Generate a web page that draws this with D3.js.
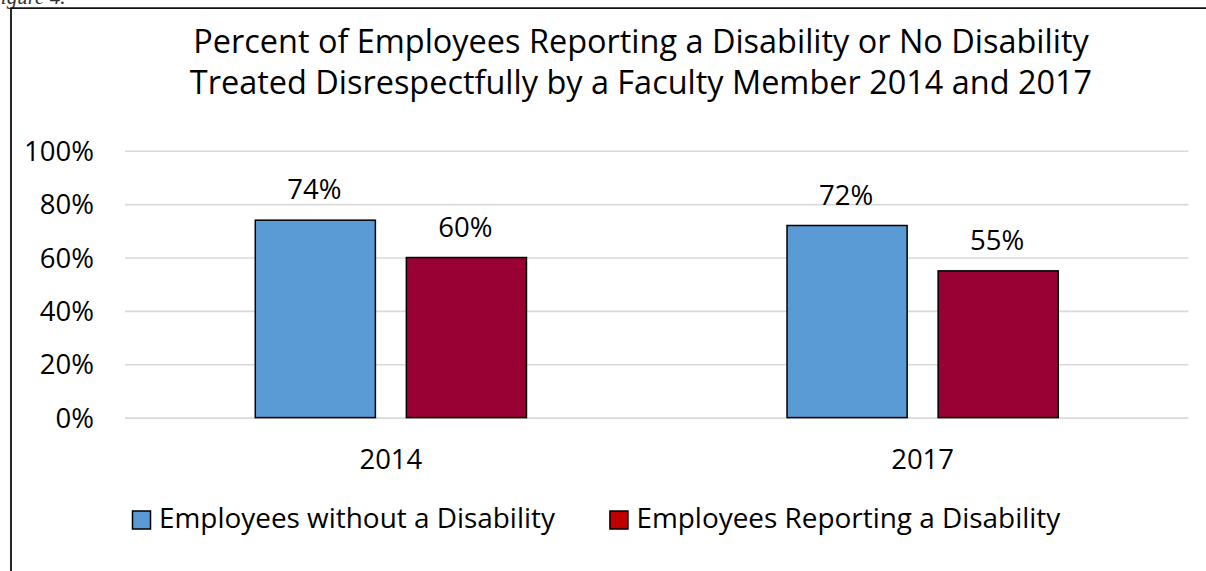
<!DOCTYPE html>
<html>
<head>
<meta charset="utf-8">
<script src="https://cdn.jsdelivr.net/npm/d3@7/dist/d3.min.js"></script>
<style>
  html, body { margin: 0; padding: 0; background: #ffffff; overflow: hidden; }
  svg { display: block; }
</style>
</head>
<body>
<svg id="chart" width="1206" height="571"></svg>
<script>
// ---- data ----
const categories = ["2014", "2017"];
const seriesNames = ["Employees without a Disability", "Employees Reporting a Disability"];
const withoutDisability = [0.74, 0.72];
const reportingDisability = [0.60, 0.55];
const yTickValues = [0, 0.2, 0.4, 0.6, 0.8, 1.0];
const titleLines = [
  "Percent of Employees Reporting a Disability or No Disability",
  "Treated Disrespectfully by a Faculty Member 2014 and 2017"
];
const figureCaption = "Figure 4.";

// ---- styles ----
const FONT = "'Open Sans', 'Noto Sans', sans-serif";
const barColors = ["#5B9BD5", "#990033"];
const legendColors = ["#5B9BD5", "#C00000"];

const svg = d3.select("#chart");
const W = 1206, H = 571;

// plot area
const plot = { left: 125, right: 1188.5, top: 150.8, bottom: 417.6 };

const x0 = d3.scaleBand().domain(categories).range([plot.left, plot.right]).padding(0);
const x1 = d3.scaleBand().domain(seriesNames)
  .range([0, x0.bandwidth() * 0.51]).paddingInner(0.205).paddingOuter(0);
const y = d3.scaleLinear().domain([0, 1]).range([plot.bottom, plot.top]);

// caption (clipped at top, as in the source page)
svg.append("text")
  .attr("x", -12).attr("y", 4)
  .attr("font-family", "'Liberation Serif', serif")
  .attr("font-style", "italic")
  .attr("font-size", 21)
  .attr("fill", "#333")
  .text(figureCaption);

// frame
svg.append("path")
  .attr("d", `M11,${H + 5} L11,8.2 L${W + 5},8.2`)
  .attr("fill", "none")
  .attr("stroke", "#111")
  .attr("stroke-width", 1.8);

// title
const titleG = svg.append("g");
const titleCx = 641;
const titleBaselines = [53, 94];
const titleTexts = titleG.selectAll("text").data(titleLines).join("text")
  .attr("x", titleCx)
  .attr("y", (d, i) => titleBaselines[i])
  .attr("text-anchor", "middle")
  .attr("font-family", FONT)
  .attr("font-size", 30)
  .attr("fill", "#000")
  .text(d => d);
// fit title font size to reference width of first line
{
  const n = titleTexts.nodes()[0];
  const w = n.getComputedTextLength();
  const fs = 30 * 896 / w;
  titleTexts.attr("font-size", fs);
}

// y axis with gridlines
const yAxis = d3.axisLeft(y)
  .tickValues(yTickValues)
  .tickSize(-(plot.right - plot.left))
  .tickPadding(31)
  .tickFormat(d3.format(".0%"));
const yg = svg.append("g").attr("transform", `translate(${plot.left},0)`).call(yAxis);
yg.select(".domain").remove();
yg.selectAll(".tick line").attr("stroke", "#D9D9D9").attr("stroke-width", 1.6);
yg.selectAll(".tick text")
  .attr("font-family", FONT)
  .attr("font-size", 27.5)
  .attr("fill", "#000")
  .attr("dy", "0.35em");

// x axis labels
const xAxis = d3.axisBottom(x0).tickSize(0).tickPadding(0);
const xg = svg.append("g").attr("transform", `translate(0,${plot.bottom})`).call(xAxis);
xg.select(".domain").remove();
xg.selectAll(".tick text")
  .attr("font-family", FONT)
  .attr("font-size", 27.5)
  .attr("fill", "#000")
  .attr("y", 51.5)
  .attr("dy", 0);

// bars
const rows = categories.map((c, i) => ({
  category: c,
  values: [
    { series: seriesNames[0], value: withoutDisability[i], color: barColors[0] },
    { series: seriesNames[1], value: reportingDisability[i], color: barColors[1] }
  ]
}));

const groups = svg.append("g").selectAll("g").data(rows).join("g")
  .attr("transform", d => `translate(${x0(d.category) + (x0.bandwidth() - x1.range()[1]) / 2},0)`);

groups.selectAll("rect").data(d => d.values).join("rect")
  .attr("x", d => x1(d.series))
  .attr("y", d => y(d.value))
  .attr("width", x1.bandwidth())
  .attr("height", d => y(0) - y(d.value))
  .attr("fill", d => d.color)
  .attr("stroke", "#000")
  .attr("stroke-width", 1.5);

groups.selectAll("text.lbl").data(d => d.values).join("text")
  .attr("class", "lbl")
  .attr("x", d => x1(d.series) + x1.bandwidth() / 2 - 1)
  .attr("y", d => y(d.value) - 21)
  .attr("text-anchor", "middle")
  .attr("font-family", FONT)
  .attr("font-size", 27.5)
  .attr("fill", "#000")
  .text(d => d3.format(".0%")(d.value));

// legend
const legend = svg.append("g");
const legendStartX = 132.5, swatchTop = 511, swatchSize = 18, legendBaseline = 528.3;
let lx = legendStartX;
let legendFs = 26;
seriesNames.forEach((name, i) => {
  legend.append("rect")
    .attr("x", lx).attr("y", swatchTop)
    .attr("width", swatchSize).attr("height", swatchSize)
    .attr("fill", legendColors[i])
    .attr("stroke", "#000").attr("stroke-width", 1.5);
  const t = legend.append("text")
    .attr("x", lx + 26.5).attr("y", legendBaseline)
    .attr("font-family", FONT)
    .attr("font-size", 26)
    .attr("fill", "#000")
    .text(name);
  if (i === 0) {
    const w = t.node().getComputedTextLength();
    legendFs = 26 * 396 / w;
  }
  t.attr("font-size", legendFs);
  lx = lx + 26.5 + t.node().getComputedTextLength() + 55;
});
</script>
</body>
</html>
